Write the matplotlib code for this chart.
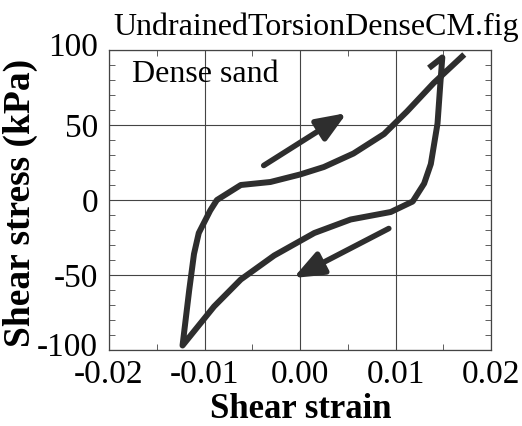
import matplotlib.pyplot as plt
from matplotlib.ticker import MultipleLocator
from matplotlib.transforms import ScaledTranslation

# hysteresis loop (strain, stress in kPa)
strain = [0.0135, 0.0149, 0.0147, 0.0144, 0.0137, 0.0130, 0.0118, 0.0095, 0.0053,
          0.0015, -0.0027, -0.0062, -0.0090, -0.0123,
          -0.0116, -0.0111, -0.0106, -0.0094, -0.0087, -0.0062, -0.0031, 0.0000,
          0.0025, 0.0056, 0.0088, 0.0112, 0.0140, 0.0172]
stress = [88, 95, 78, 51, 24, 11, -1, -8, -13,
          -22, -37, -53, -71, -97,
          -60, -36, -22, -7, 0, 10, 12, 17,
          22, 31, 44, 59, 78, 97]

# direction arrows: (start, end)
arrow_up = ((-0.0038, 23), (0.0049, 58))
arrow_down = ((0.0093, -19), (-0.0007, -52))

xticks = [-0.02, -0.01, 0.00, 0.01, 0.02]
yticks = [-100, -50, 0, 50, 100]

col = '#2e2e2e'
plt.rcParams['font.family'] = 'Liberation Serif'
plt.rcParams['axes.unicode_minus'] = False

fig = plt.figure(figsize=(5.22, 4.26), dpi=100)
ax = fig.add_axes([109/522, 1 - 350/426, 382/522, 300/426])

ax.plot(strain, stress, color=col, lw=4.3, solid_joinstyle='round', solid_capstyle='butt')
for (s, e) in (arrow_up, arrow_down):
    ax.annotate('', xy=e, xytext=s,
                arrowprops=dict(arrowstyle='-|>,head_length=1.5,head_width=0.6',
                                color=col, lw=4, shrinkA=0, shrinkB=0,
                                mutation_scale=12))

ax.set_xlim(-0.02, 0.02)
ax.set_ylim(-100, 100)
ax.set_xticks(xticks)
ax.set_xticklabels(['%.2f' % v for v in xticks])
ax.set_yticks(yticks)
ax.xaxis.set_minor_locator(MultipleLocator(0.005))
ax.yaxis.set_minor_locator(MultipleLocator(10))
ax.grid(True, which='major', color='#444444', lw=0.8)
ax.tick_params(which='both', direction='in', top=True, right=True, labelsize=24, color='#444444')
ax.tick_params(which='major', length=0)
ax.tick_params(which='minor', length=4)
ax.tick_params(axis='x', pad=7)
ax.tick_params(axis='y', pad=8)
for sp in ax.spines.values():
    sp.set_color('#444444')
    sp.set_linewidth(0.9)

# end labels on the y axis sit a little higher in the original
ticks = ax.yaxis.get_major_ticks()
for i, v in enumerate(yticks):
    if abs(v) == 100:
        lab = ticks[i].label1
        lab.set_transform(lab.get_transform() + ScaledTranslation(0, 6/100, fig.dpi_scale_trans))

ax.set_xlabel('Shear strain', fontsize=25, fontweight='bold')
ax.xaxis.set_label_coords(0.503, -0.143)
ax.set_ylabel('Shear stress (kPa)', fontsize=27, fontweight='bold')
ax.yaxis.set_label_coords(-0.185, 0.49)
ax.text(0.06, 0.893, 'Dense sand', transform=ax.transAxes, fontsize=23, va='baseline')
fig.text(316/522, 1 - 35/426, 'UndrainedTorsionDenseCM.fig', fontsize=23,
         ha='center', va='baseline')

fig.savefig('out.png', dpi=100)
